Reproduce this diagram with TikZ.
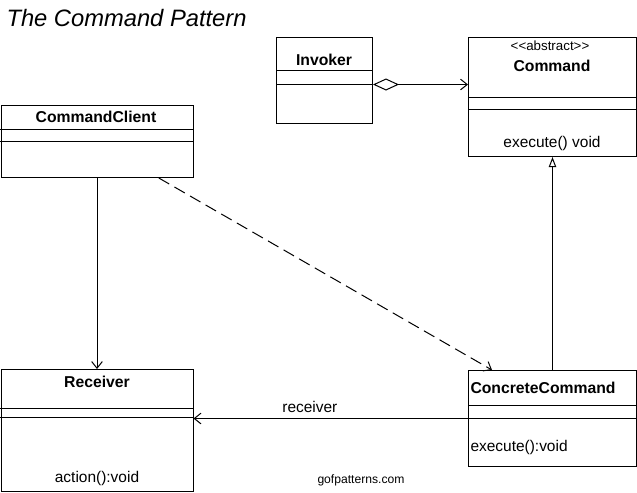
\documentclass[tikz,border=0pt]{standalone}
\usepackage{fontspec}
\setmainfont{Liberation Sans}
\usetikzlibrary{arrows.meta,calc,positioning}

\begin{document}
\begin{tikzpicture}[x=0.75pt,y=-0.75pt,line width=0.75pt,
  classbox/.style={draw,rectangle,anchor=north west,inner sep=0pt},
  cname/.style={font=\fontsize{11.8}{14}\selectfont\bfseries},
  ctext/.style={font=\fontsize{11.6}{14}\selectfont},
  openhead/.style={-{Straight Barb[length=5pt,width=8pt,line width=0.75pt]}},
  aggr/.style={{Diamond[open,length=19.5pt,width=9pt,line width=0.75pt]}-{Straight Barb[length=5pt,width=8pt,line width=0.75pt]}},
  inherit/.style={-{Triangle[open,length=7.5pt,width=5.5pt,line width=0.75pt]}}]

  \useasboundingbox (0,0) rectangle (637,493);

  % ---- Title ------------------------------------------------
  \node[anchor=west,font=\fontsize{17.8}{20}\selectfont\itshape,inner sep=0pt]
    (title) at (6,18) {The Command Pattern};

  % ---- CommandClient ----------------------------------------
  \node[classbox,minimum width=144pt,minimum height=54pt] (client) at (0.5,105) {};
  \draw (client.north west) ++(0,24) -- ++(192,0);
  \draw (client.north west) ++(0,36) -- ++(192,0);
  \node[cname] (client-name) at (96,117) {CommandClient};

  % ---- Invoker ----------------------------------------------
  \node[classbox,minimum width=72pt,minimum height=64.5pt] (invoker) at (276,37) {};
  \draw (invoker.north west) ++(0,33) -- ++(96,0);
  \draw (invoker.north west) ++(0,47) -- ++(96,0);
  \node[cname] (invoker-name) at (324,60) {Invoker};

  % ---- Command (abstract) -----------------------------------
  \node[classbox,minimum width=126pt,minimum height=89.25pt] (command) at (468,37) {};
  \draw (command.north west) ++(0,60) -- ++(168,0);
  \draw (command.north west) ++(0,72) -- ++(168,0);
  \node[font=\fontsize{10}{12}\selectfont] (command-stereo) at (550,46)
    {<\kern0pt<abstract>\kern0pt>};
  \node[cname] (command-name) at (552,66) {Command};
  \node[ctext] (command-op) at (552,143) {execute() void};

  % ---- Receiver ---------------------------------------------
  \node[classbox,minimum width=144pt,minimum height=91.5pt] (receiver) at (0.5,369) {};
  \draw (receiver.north west) ++(0,39) -- ++(192,0);
  \draw (receiver.north west) ++(0,48) -- ++(192,0);
  \node[cname] (receiver-name) at (97,382) {Receiver};
  \node[ctext] (receiver-op) at (97,478) {action():void};

  % ---- ConcreteCommand --------------------------------------
  \node[classbox,minimum width=126pt,minimum height=72pt] (concrete) at (468,370) {};
  \draw (concrete.north west) ++(0,35) -- ++(168,0);
  \draw (concrete.north west) ++(0,48) -- ++(168,0);
  \node[cname,anchor=west,inner sep=0pt] (concrete-name) at (470,388) {ConcreteCommand};
  \node[ctext,anchor=west,inner sep=0pt] (concrete-op) at (470,447) {execute():void};

  % ---- Relations --------------------------------------------
  \coordinate (inv-link) at ([yshift=-3pt]invoker.east);
  \draw[aggr] (inv-link) -- (inv-link -| command.west);
  \draw[openhead] (client.south) -- (receiver.north);
  \draw[openhead,dash pattern=on 9pt off 4.5pt]
    ([xshift=-26pt]client.south east) -- ([xshift=18pt]concrete.north west);
  \draw[inherit] (concrete.north) -- (command.south);
  \draw[openhead] (concrete.west) -- (concrete.west -| receiver.east)
    node[pos=0.576,above=1pt,ctext] (role) {receiver};

  % ---- Footer -----------------------------------------------
  \node[font=\fontsize{9.1}{11}\selectfont] (site) at (361,480) {gofpatterns.com};

\end{tikzpicture}
\end{document}
